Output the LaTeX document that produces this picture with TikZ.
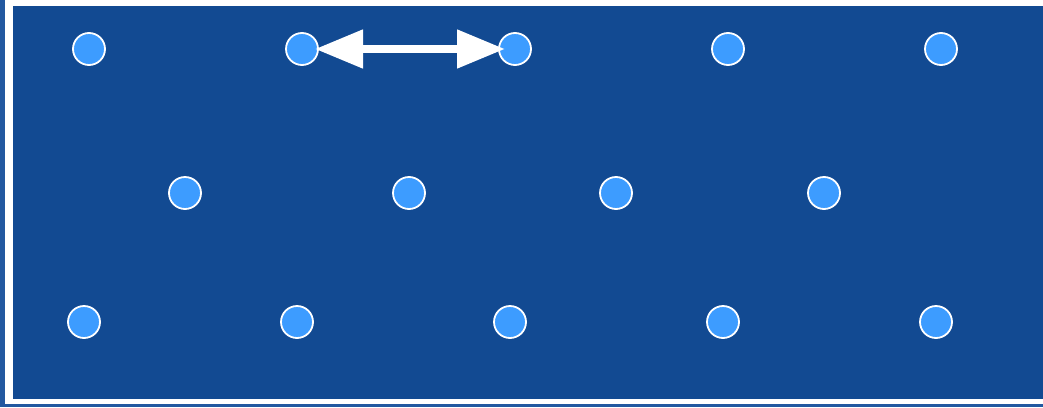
\documentclass[tikz,border=0pt]{standalone}
\usetikzlibrary{arrows.meta}
\definecolor{seablue}{RGB}{18,74,146}
\definecolor{edgeblue}{RGB}{34,88,160}
\definecolor{dotblue}{RGB}{61,156,255}
\tikzset{
  dot/.style={circle, fill=dotblue, draw=white, line width=1.8pt, minimum size=32pt, inner sep=0pt},
  twohead/.style={draw=white, line width=8pt,
    {Triangle[length=48pt,width=37pt]}-{Triangle[length=48pt,width=37pt]}}
}
\begin{document}
\begin{tikzpicture}[x=1pt,y=-1pt]
  \useasboundingbox (0,0) rectangle (1043,407);
  % backdrop, white frame and panel
  \fill[edgeblue] (0,0) rectangle (1043,407);
  \fill[white] (5,0) rectangle (1043,404);
  \fill[seablue] (13,6) rectangle (1043,399);
  % top row
  \node[dot] (a1) at (89,49) {};
  \node[dot] (a2) at (302,49) {};
  \node[dot] (a3) at (515,49) {};
  \node[dot] (a4) at (728,49) {};
  \node[dot] (a5) at (941,49) {};
  % middle row
  \node[dot] (b1) at (185,193) {};
  \node[dot] (b2) at (409,193) {};
  \node[dot] (b3) at (616,193) {};
  \node[dot] (b4) at (824,193) {};
  % bottom row
  \node[dot] (c1) at (84,322) {};
  \node[dot] (c2) at (297,322) {};
  \node[dot] (c3) at (510,322) {};
  \node[dot] (c4) at (723,322) {};
  \node[dot] (c5) at (936,322) {};
  % spacing arrow
  \draw[twohead, shorten <=13pt, shorten >=10pt] (a2.center) -- (a3.center);
\end{tikzpicture}
\end{document}
